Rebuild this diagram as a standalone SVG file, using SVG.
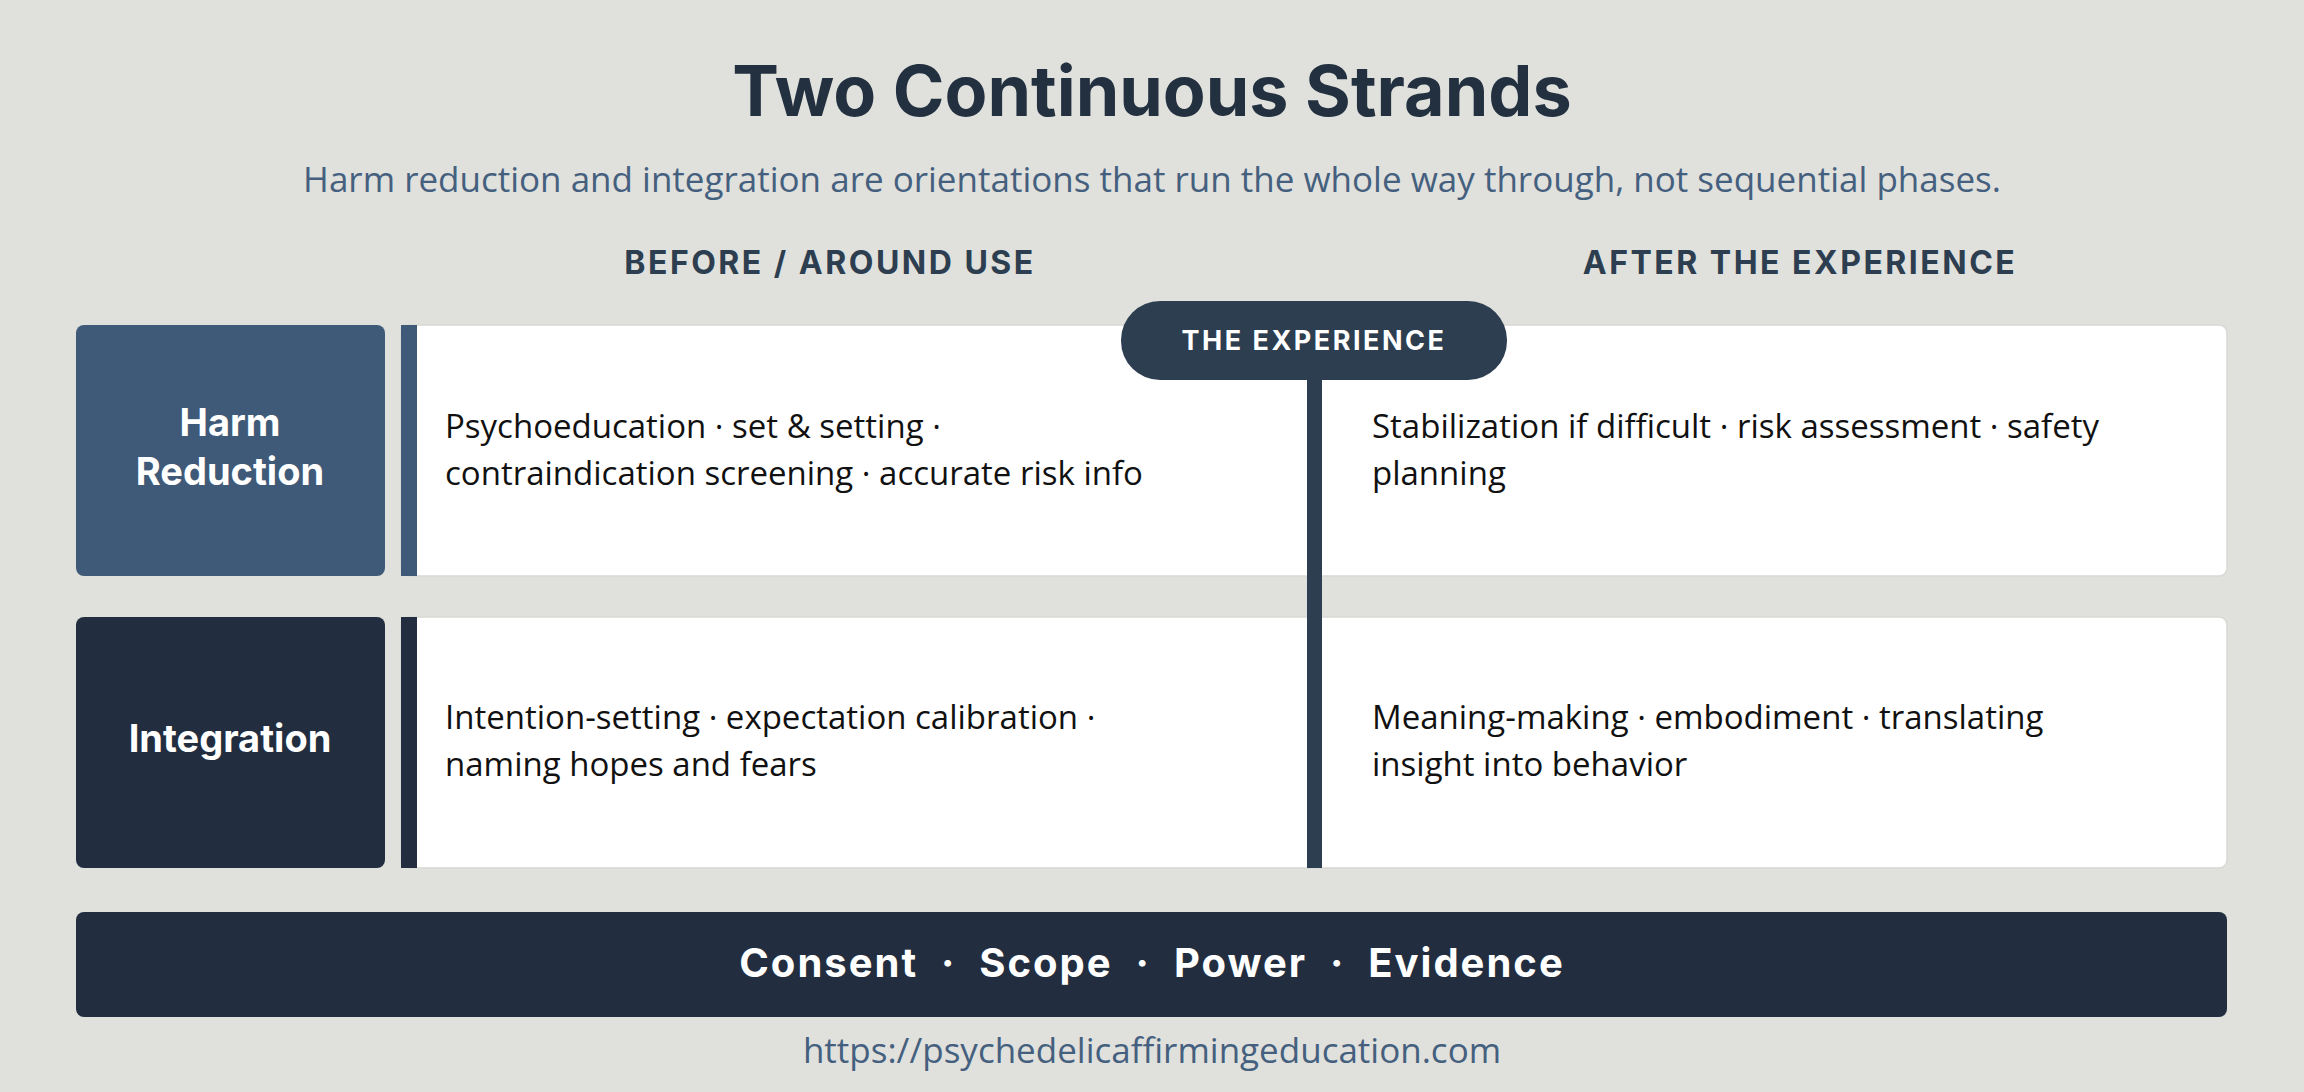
<svg xmlns="http://www.w3.org/2000/svg" width="2304" height="1092" viewBox="0 0 2304 1092">
<style>
.h{font-family:Inter,"Open Sans",sans-serif;font-weight:700}
.t{font-family:"Open Sans",Inter,sans-serif;font-size:33px;fill:#111}
.col{font-family:Inter,sans-serif;font-weight:700;font-size:32px;fill:#2c3e50;letter-spacing:2.5px;text-anchor:middle}
.card{fill:#fff;stroke:#d8d8d4;stroke-width:1.5}
.lab{font-family:Inter,sans-serif;font-weight:700;font-size:38px;fill:#fff;text-anchor:middle}
</style>
<rect width="2304" height="1092" fill="#e0e0dc"/>
<text x="1152" y="116" class="h" font-size="70" fill="#22303f" text-anchor="middle">Two Continuous Strands</text>
<text x="1152" y="192" font-family="'Open Sans',sans-serif" font-size="35" fill="#45607f" text-anchor="middle">Harm reduction and integration are orientations that run the whole way through, not sequential phases.</text>
<text x="830" y="274" class="col">BEFORE / AROUND USE</text>
<text x="1800" y="274" class="col">AFTER THE EXPERIENCE</text>
<g id="row1">
<rect x="76" y="325" width="309" height="251" rx="8" fill="#3f5a78"/>
<text x="230" y="436" class="lab">Harm</text>
<text x="230" y="485" class="lab">Reduction</text>
<rect x="401" y="325" width="1826" height="251" rx="8" class="card"/>
<rect x="401" y="325" width="16" height="251" fill="#3f5a78"/>
<text x="445" y="438" class="t">Psychoeducation · set &amp; setting ·</text>
<text x="445" y="485" class="t">contraindication screening · accurate risk info</text>
<text x="1372" y="438" class="t">Stabilization if difficult · risk assessment · safety</text>
<text x="1372" y="485" class="t">planning</text>
</g>
<g id="row2">
<rect x="76" y="617" width="309" height="251" rx="8" fill="#222e3f"/>
<text x="230" y="752" class="lab">Integration</text>
<rect x="401" y="617" width="1826" height="251" rx="8" class="card"/>
<rect x="401" y="617" width="16" height="251" fill="#222e3f"/>
<text x="445" y="729" class="t">Intention-setting · expectation calibration ·</text>
<text x="445" y="776" class="t">naming hopes and fears</text>
<text x="1372" y="729" class="t">Meaning-making · embodiment · translating</text>
<text x="1372" y="776" class="t">insight into behavior</text>
</g>
<g id="connectors">
<rect x="1307" y="367" width="15" height="501" fill="#2c3e50"/>
</g>
<g id="experience">
<rect x="1121" y="301" width="386" height="79" rx="39" fill="#2c3e50"/>
<text x="1314" y="350" class="h" font-size="27" fill="#fff" text-anchor="middle" letter-spacing="2.5">THE EXPERIENCE</text>
</g>
<g id="footer">
<rect x="76" y="912" width="2151" height="105" rx="8" fill="#222e3f"/>
<text x="1152" y="977" class="h" font-size="40" fill="#fff" text-anchor="middle" letter-spacing="2" xml:space="preserve">Consent  ·  Scope  ·  Power  ·  Evidence</text>
</g>
<text x="1152" y="1063" font-family="'Open Sans',sans-serif" font-size="35" fill="#45607f" text-anchor="middle">https://psychedelicaffirmingeducation.com</text>
</svg>
